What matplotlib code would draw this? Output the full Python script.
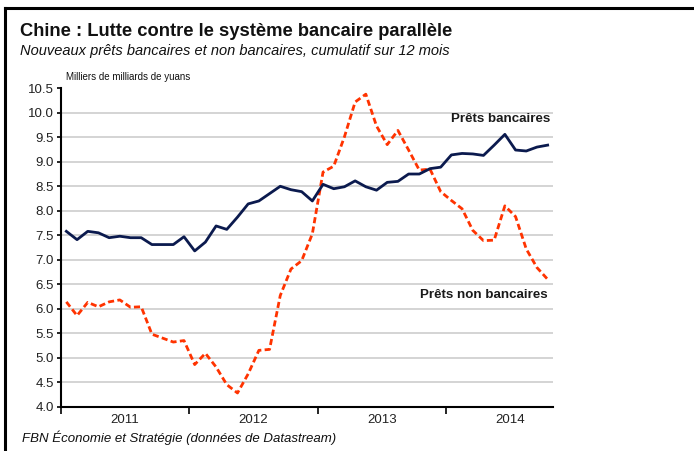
import numpy as np
from matplotlib import pyplot as plt
from matplotlib.lines import Line2D

plt.rcParams['font.family'] = ['Liberation Sans', 'DejaVu Sans']

# Monthly data, Jan 2011 - Oct 2014 (thousands of billions of yuan)
bank_loans = [7.58, 7.41, 7.58, 7.55, 7.45, 7.48, 7.45, 7.45, 7.31, 7.31, 7.31, 7.47,
              7.18, 7.36, 7.69, 7.62, 7.87, 8.14, 8.20, 8.35, 8.50, 8.43, 8.39, 8.20,
              8.54, 8.45, 8.49, 8.61, 8.49, 8.42, 8.58, 8.60, 8.75, 8.75, 8.86, 8.89,
              9.14, 9.17, 9.16, 9.13, 9.34, 9.56, 9.24, 9.22, 9.30, 9.34]
nonbank_loans = [6.14, 5.86, 6.13, 6.04, 6.14, 6.18, 6.03, 6.04, 5.48, 5.40, 5.32, 5.35,
                 4.86, 5.09, 4.81, 4.45, 4.28, 4.67, 5.15, 5.17, 6.27, 6.81, 6.98, 7.53,
                 8.79, 8.91, 9.51, 10.22, 10.38, 9.73, 9.35, 9.64, 9.24, 8.83, 8.85, 8.39,
                 8.21, 8.04, 7.60, 7.39, 7.40, 8.10, 7.88, 7.22, 6.84, 6.60]
years = ['2011', '2012', '2013', '2014']
y_ticks = [4.0, 4.5, 5.0, 5.5, 6.0, 6.5, 7.0, 7.5, 8.0, 8.5, 9.0, 9.5, 10.0, 10.5]

W, H = 694, 451
fig = plt.figure(figsize=(W / 100, H / 100), dpi=100)
ax = fig.add_axes([61 / W, 1 - 406.7 / H, (553 - 61) / W, (406.7 - 88.3) / H])

x = np.arange(len(bank_loans)) + 0.5

# grid lines (not at the top or bottom)
for v in y_ticks[1:-1]:
    ax.axhline(v, color='#d4d4d4', lw=1.4, zorder=1)

ax.plot(x, nonbank_loans, color='#ff3300', lw=2.0, ls=(0, (2.2, 1.2)), zorder=3)
ax.plot(x, bank_loans, color='#0b1a4e', lw=2.0, zorder=4)

ax.set_xlim(0, len(bank_loans))
ax.set_ylim(4.0, 10.5)
ax.set_yticks(y_ticks)
ax.set_yticklabels([f'{v:.1f}' for v in y_ticks], fontsize=9.5, color='#222222')
ax.set_xticks([0, 12, 24, 36])
ax.set_xticklabels([])
ax.set_xticks([6, 18, 30, 42], minor=True)
ax.set_xticklabels(years, minor=True, fontsize=9.5, color='#222222')
ax.tick_params(axis='x', which='major', direction='out', length=5, width=1.2)
ax.tick_params(axis='x', which='minor', length=0, pad=5)
ax.tick_params(axis='y', direction='out', length=3, width=1.2, pad=2)

for side in ['top', 'right']:
    ax.spines[side].set_visible(False)
ax.spines['left'].set_linewidth(1.5)
ax.spines['bottom'].set_linewidth(1.5)

ax.text(0.995, 9.88, 'Prêts bancaires', ha='right', va='center', fontsize=9.6,
        fontweight='bold', color='#1a1a1a', transform=ax.get_yaxis_transform())
ax.text(0.99, 6.28, 'Prêts non bancaires', ha='right', va='center', fontsize=9.6,
        fontweight='bold', color='#1a1a1a', transform=ax.get_yaxis_transform())

fig.text(20 / W, 1 - 31 / H, 'Chine : Lutte contre le système bancaire parallèle',
         fontsize=13.2, fontweight='bold', va='center', color='#111111')
fig.text(20 / W, 1 - 51 / H, 'Nouveaux prêts bancaires et non bancaires, cumulatif sur 12 mois',
         fontsize=10.5, style='italic', va='center', color='#111111')
fig.text(66 / W, 1 - 77 / H, 'Milliers de milliards de yuans', fontsize=7,
         va='center', color='#111111')
fig.text(22 / W, 1 - 438 / H, 'FBN Économie et Stratégie (données de Datastream)',
         fontsize=9.5, style='italic', va='center', color='#111111')

# outer frame (top and left)
fig.add_artist(Line2D([5 / W, 1], [1 - 8 / H, 1 - 8 / H], color='black', lw=2.2))
fig.add_artist(Line2D([5 / W, 5 / W], [0, 1 - 8 / H], color='black', lw=2.2))

fig.savefig('out.png', dpi=100)
